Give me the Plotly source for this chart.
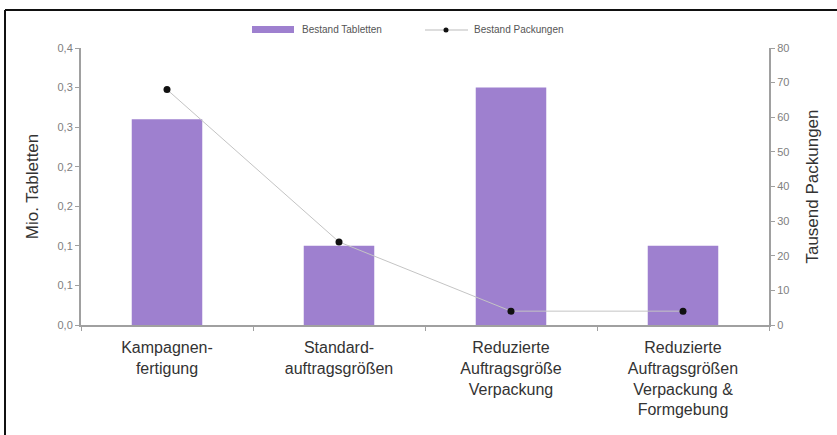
import plotly.graph_objects as go

# Categories and values
categories = [
    "Kampagnen-<br>fertigung",
    "Standard-<br>auftragsgrößen",
    "Reduzierte<br>Auftragsgröße<br>Verpackung",
    "Reduzierte<br>Auftragsgrößen<br>Verpackung &<br>Formgebung",
]
bestand_tabletten = [0.26, 0.10, 0.30, 0.10]   # Mio. Tabletten
bestand_packungen = [68, 24, 4, 4]             # Tausend Packungen

left_tickvals = [0.0, 0.05, 0.10, 0.15, 0.20, 0.25, 0.30, 0.35]
left_ticktext = ["0,0", "0,1", "0,1", "0,2", "0,2", "0,3", "0,3", "0,4"]
right_tickvals = [0, 10, 20, 30, 40, 50, 60, 70, 80]

W, H = 837, 435
ML, MR, MT, MB = 81, 68, 48, 110
PW, PH = W - ML - MR, H - MT - MB

BAR = "#9e80cf"
AXIS = "#a0a0a0"
TICKTXT = "#808080"
FONT = "Liberation Sans, Arial, sans-serif"


def px(x):
    return (x - ML) / PW


def py(y):
    return (H - MB - y) / PH


fig = go.Figure()
fig.add_trace(go.Bar(
    x=categories, y=bestand_tabletten, name="Bestand Tabletten",
    marker=dict(color=BAR, line=dict(width=0)), yaxis="y",
))
fig.add_trace(go.Scatter(
    x=categories, y=bestand_packungen, name="Bestand Packungen",
    mode="lines+markers", yaxis="y2",
    line=dict(color="#c4c4c4", width=1),
    marker=dict(color="#111111", size=7),
))

shapes = [
    # outer frame
    dict(type="line", xref="paper", yref="paper", x0=px(5), x1=px(5),
         y0=py(10), y1=py(440), line=dict(color="#111111", width=2)),
    dict(type="line", xref="paper", yref="paper", x0=px(5), x1=px(840),
         y0=py(10), y1=py(10), line=dict(color="#111111", width=2)),
    # legend swatches
    dict(type="rect", xref="paper", yref="paper", x0=px(252), x1=px(294),
         y0=py(33), y1=py(26), fillcolor=BAR, line=dict(width=0)),
    dict(type="line", xref="paper", yref="paper", x0=px(425), x1=px(468),
         y0=py(30), y1=py(30), line=dict(color="#bbbbbb", width=1)),
    dict(type="circle", xref="paper", yref="paper", x0=px(443.5), x1=px(448.5),
         y0=py(32.5), y1=py(27.5), fillcolor="#111111", line=dict(width=0)),
]

annotations = [
    dict(text="Bestand Tabletten", xref="paper", yref="paper", x=px(300), y=py(30),
         xanchor="left", yanchor="middle", showarrow=False,
         font=dict(size=10, color="#555555", family=FONT)),
    dict(text="Bestand Packungen", xref="paper", yref="paper", x=px(472), y=py(30),
         xanchor="left", yanchor="middle", showarrow=False,
         font=dict(size=10, color="#555555", family=FONT)),
]

fig.update_layout(
    width=W, height=H,
    margin=dict(l=ML, r=MR, t=MT, b=MB, pad=0),
    paper_bgcolor="white", plot_bgcolor="white",
    showlegend=False,
    bargap=0.59,
    font=dict(family=FONT, color="#333333"),
    shapes=shapes,
    annotations=annotations,
    xaxis=dict(
        type="category", showgrid=False, showline=True, linecolor=AXIS, linewidth=1.5,
        ticks="outside", tickson="boundaries", ticklen=4, tickcolor=AXIS,
        ticklabelstandoff=7,
        tickfont=dict(size=16, color="#333333", family=FONT),
    ),
    yaxis=dict(
        range=[0, 0.35], tickvals=left_tickvals, ticktext=left_ticktext,
        showgrid=False, zeroline=False, showline=True, linecolor=AXIS, linewidth=2,
        ticks="outside", ticklen=4, tickcolor=AXIS,
        tickfont=dict(size=11, color=TICKTXT, family=FONT),
        title=dict(text="Mio. Tabletten", font=dict(size=17, color="#333333", family=FONT),
                   standoff=15),
    ),
    yaxis2=dict(
        range=[0, 80], tickvals=right_tickvals, overlaying="y", side="right",
        showgrid=False, zeroline=False, showline=True, linecolor=AXIS, linewidth=2,
        ticks="outside", ticklen=4, tickcolor=AXIS,
        tickfont=dict(size=11, color=TICKTXT, family=FONT),
        title=dict(text="Tausend Packungen", font=dict(size=17, color="#333333", family=FONT),
                   standoff=18),
    ),
)

fig.write_html("out.html")
